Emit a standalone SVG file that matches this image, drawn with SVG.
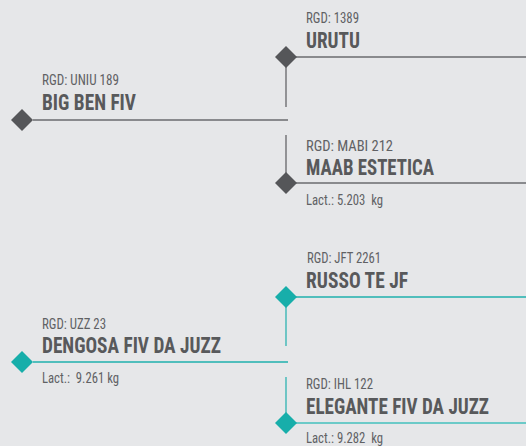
<svg xmlns="http://www.w3.org/2000/svg" width="526" height="446" viewBox="0 0 526 446">
<style>
text{font-family:"Roboto Condensed",Roboto,"Liberation Sans",sans-serif;white-space:pre}
.rgd{font-size:14px;fill:#606164}
.name{font-size:22.5px;font-weight:bold;fill:#58595b}
.lact{font-size:14px;fill:#606164}
.g-line{stroke:#6a6b6e;stroke-width:1.5;fill:none}
.g-vline{stroke:#5a5b5e;stroke-width:1.2;fill:none}
.t-line{stroke:#1fb0ad;stroke-width:1.5;fill:none}
.t-line2{stroke:#6ccac8;stroke-width:2;fill:none}
.t-vline{stroke:#1fb0ad;stroke-width:1.2;fill:none}
.gd{fill:#555659}
.td{fill:#17aeaa}
</style>
<defs>
<polygon id="dia" points="0,-11 11,0 0,11 -11,0"/>
</defs>
<rect width="526" height="446" fill="#e6e7e9"/>
<g id="connectors">
<line class="g-line" x1="33" y1="120" x2="288" y2="120"/>
<line class="g-line" x1="296" y1="57" x2="526" y2="57"/>
<line class="g-line" x1="296" y1="183" x2="526" y2="183"/>
<line class="g-vline" x1="286" y1="62" x2="286" y2="107"/>
<line class="g-vline" x1="286" y1="135" x2="286" y2="178"/>
<line class="t-line" x1="33" y1="362" x2="288" y2="362"/>
<line class="t-line" x1="296" y1="297" x2="526" y2="297"/>
<line class="t-line2" x1="296" y1="423" x2="526" y2="423"/>
<line class="t-vline" x1="286" y1="302" x2="286" y2="346"/>
<line class="t-vline" x1="286" y1="377" x2="286" y2="418"/>
</g>
<g id="node-bigben">
<use href="#dia" class="gd" x="22" y="120"/>
<text class="rgd" x="42" y="85" textLength="77" lengthAdjust="spacingAndGlyphs">RGD: UNIU 189</text>
<text class="name" x="42" y="110" textLength="94" lengthAdjust="spacingAndGlyphs">BIG BEN FIV</text>
</g>
<g id="node-urutu">
<use href="#dia" class="gd" x="286" y="57"/>
<text class="rgd" x="306" y="22.5" textLength="53" lengthAdjust="spacingAndGlyphs">RGD: 1389</text>
<text class="name" x="306" y="48" textLength="54" lengthAdjust="spacingAndGlyphs">URUTU</text>
</g>
<g id="node-maab">
<use href="#dia" class="gd" x="286" y="183"/>
<text class="rgd" x="306" y="151" textLength="87" lengthAdjust="spacingAndGlyphs">RGD: MABI 212</text>
<text class="name" x="306" y="175" textLength="128" lengthAdjust="spacingAndGlyphs">MAAB ESTETICA</text>
<text class="lact" x="306" y="205" textLength="77" lengthAdjust="spacingAndGlyphs">Lact.: 5.203  kg</text>
</g>
<g id="node-dengosa">
<use href="#dia" class="td" x="22" y="362"/>
<text class="rgd" x="42" y="329" textLength="64" lengthAdjust="spacingAndGlyphs">RGD: UZZ 23</text>
<text class="name" x="42" y="353" textLength="179" lengthAdjust="spacingAndGlyphs">DENGOSA FIV DA JUZZ</text>
<text class="lact" x="42" y="383" textLength="77" lengthAdjust="spacingAndGlyphs">Lact.:  9.261 kg</text>
</g>
<g id="node-russo">
<use href="#dia" class="td" x="286" y="297"/>
<text class="rgd" x="307" y="263" textLength="74" lengthAdjust="spacingAndGlyphs">RGD: JFT 2261</text>
<text class="name" x="306" y="288" textLength="102" lengthAdjust="spacingAndGlyphs">RUSSO TE JF</text>
</g>
<g id="node-elegante">
<use href="#dia" class="td" x="286" y="423"/>
<text class="rgd" x="306" y="389" textLength="67" lengthAdjust="spacingAndGlyphs">RGD: IHL 122</text>
<text class="name" x="306" y="414" textLength="183" lengthAdjust="spacingAndGlyphs">ELEGANTE FIV DA JUZZ</text>
<text class="lact" x="306" y="443" textLength="77" lengthAdjust="spacingAndGlyphs">Lact.: 9.282  kg</text>
</g>
</svg>
